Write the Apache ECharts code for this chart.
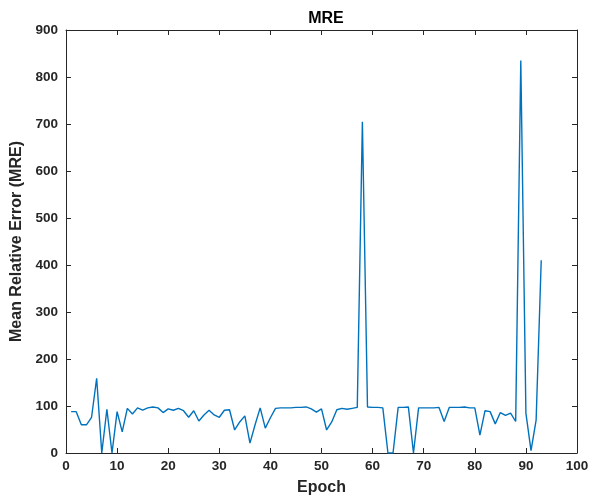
<!DOCTYPE html>
<html><head><meta charset="utf-8">
<script src="https://cdn.jsdelivr.net/npm/echarts@6/dist/echarts.min.js"></script>
<style>html,body{margin:0;padding:0;background:#fff}#c{width:592px;height:502px}</style>
</head><body><div id="c"></div>
<script>
const epochs = [];
for (let i = 1; i <= 93; i++) epochs.push(i);
const mre = [
  88, 88, 60, 60, 76, 159, 0, 93, 0, 88,
  45, 95, 83, 96, 91, 96, 98, 96, 86, 94,
  91, 95, 90, 76, 90, 68, 81, 91, 81, 76,
  91, 92, 49, 66, 79, 21, 60, 96, 53, 75,
  95, 96, 96, 96, 97, 97, 98, 94, 87, 94,
  49, 66, 92, 95, 93, 95, 97, 705, 98, 97,
  97, 96, 0, 0, 97, 97, 98, 0, 96, 96,
  96, 96, 97, 67, 97, 97, 97, 98, 96, 96,
  38, 90, 88, 62, 86, 80, 85, 67, 835, 85,
  5, 70, 410
];
const xTicks = [0,10,20,30,40,50,60,70,80,90,100];
const yTicks = [0,100,200,300,400,500,600,700,800,900];

const font = 'Liberation Sans, Arial, sans-serif';
const axisCol = '#262626';
const baseAxis = {
  axisLine: {show: true, onZero: false, lineStyle: {color: axisCol, width: 1}},
  axisTick: {show: true, inside: true, length: 5, lineStyle: {color: axisCol}},
  splitLine: {show: false}
};
const chart = echarts.init(document.getElementById('c'));
chart.setOption({
  animation: false,
  backgroundColor: '#fff',
  title: {text: 'MRE', left: 321, top: 6, textAlign: 'center',
    textStyle: {fontFamily: font, fontWeight: 'bold', fontSize: 16, color: '#000'}},
  grid: {left: 66, right: 15, top: 30, bottom: 49, containLabel: false},
  xAxis: [
    Object.assign({}, baseAxis, {type: 'value', min: 0, max: 100, interval: 10, position: 'bottom',
      name: 'Epoch', nameLocation: 'middle', nameGap: 27,
      nameTextStyle: {fontFamily: font, fontWeight: 'bold', fontSize: 16, color: axisCol},
      axisLabel: {fontFamily: font, fontWeight: 'bold', fontSize: 13.5, color: axisCol, margin: 6,
        formatter: v => xTicks.includes(v) ? String(v) : ''}}),
    Object.assign({}, baseAxis, {type: 'value', min: 0, max: 100, interval: 10, position: 'top',
      axisLabel: {show: false}})
  ],
  yAxis: [
    Object.assign({}, baseAxis, {type: 'value', min: 0, max: 900, interval: 100, position: 'left',
      name: 'Mean Relative Error (MRE)', nameLocation: 'middle', nameGap: 41, nameRotate: 90,
      nameTextStyle: {fontFamily: font, fontWeight: 'bold', fontSize: 16, color: axisCol},
      axisLabel: {fontFamily: font, fontWeight: 'bold', fontSize: 13.5, color: axisCol, margin: 8,
        formatter: v => yTicks.includes(v) ? String(v) : ''}}),
    Object.assign({}, baseAxis, {type: 'value', min: 0, max: 900, interval: 100, position: 'right',
      axisLabel: {show: false}})
  ],
  series: [{
    type: 'line',
    data: epochs.map((e, i) => [e, mre[i]]),
    showSymbol: false,
    symbol: 'none',
    lineStyle: {color: '#0072BD', width: 1.4},
    xAxisIndex: 0, yAxisIndex: 0
  }]
});
</script></body></html>
